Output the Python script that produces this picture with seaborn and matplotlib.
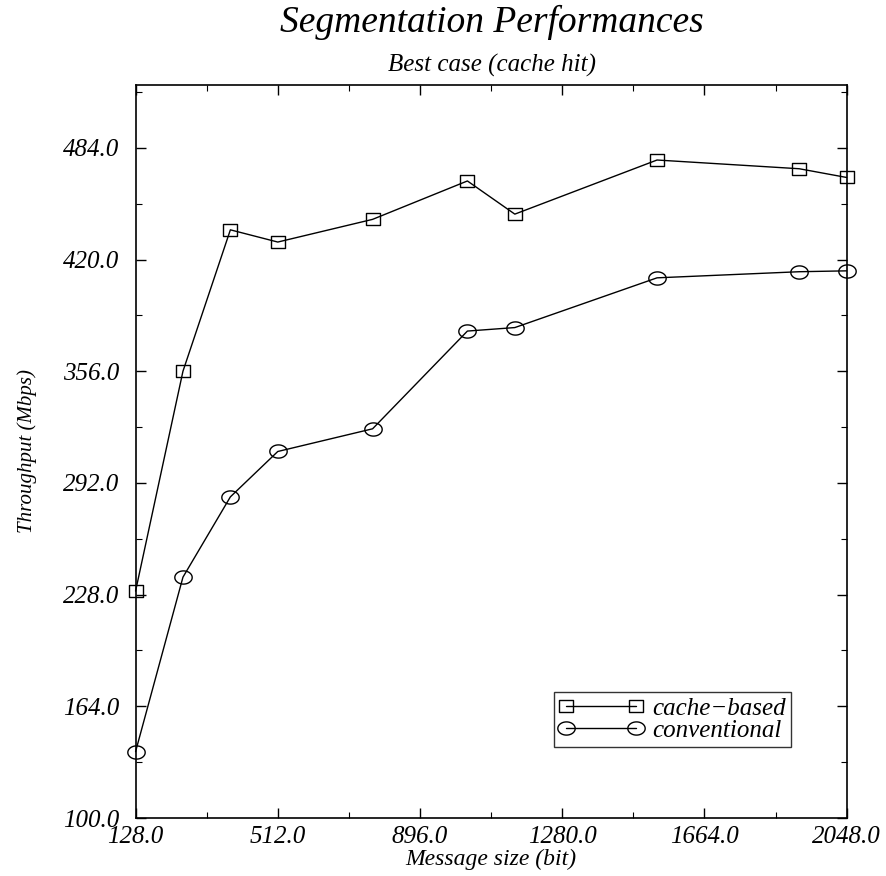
import numpy as np
import pandas as pd
import matplotlib
matplotlib.use("Agg")
import matplotlib.pyplot as plt
from matplotlib.path import Path
from matplotlib.lines import Line2D
import seaborn as sns

# ---- data ----
msg_size = [128, 256, 384, 512, 768, 1024, 1152, 1536, 1920, 2048]
cache_based = [230, 356, 437, 430, 443, 465, 446, 477, 472, 467]
conventional = [138, 238, 284, 310, 323, 379, 381, 409.5, 413, 413.5]
series_names = ["cache\u2212based", "conventional"]
x_ticks = [128, 512, 896, 1280, 1664, 2048]
y_ticks = [100, 164, 228, 292, 356, 420, 484]

df = pd.DataFrame({
    "size": msg_size * 2,
    "thr": cache_based + conventional,
    "series": [series_names[0]] * len(msg_size) + [series_names[1]] * len(msg_size),
})

sns.set_theme(style="ticks")
plt.rcParams["font.family"] = ["Liberation Serif", "DejaVu Serif"]
plt.rcParams["font.style"] = "italic"
for key in ["text.color", "axes.labelcolor", "xtick.color", "ytick.color",
            "axes.edgecolor"]:
    plt.rcParams[key] = "black"

# ellipse marker (wider than tall) and slightly wide square
t = np.linspace(0, 2 * np.pi, 61)
ellipse = Path(np.column_stack([np.cos(t), 0.76 * np.sin(t)]), closed=True)
rect = Path([(-1, -0.9), (1, -0.9), (1, 0.9), (-1, 0.9), (-1, -0.9)],
            closed=True)

fig = plt.figure(figsize=(8.86, 8.76), dpi=100)
ax = fig.add_axes([0.153, 0.0662, 0.8026, 0.8368])

sns.lineplot(data=df, x="size", y="thr", style="series",
             markers={series_names[0]: rect, series_names[1]: ellipse},
             dashes=False, color="black", linewidth=1.0,
             markersize=10, markerfacecolor="none", markeredgecolor="black",
             markeredgewidth=1.0, ax=ax, legend=False)

lines = ax.get_lines()
lines[0].set_markersize(9.8)
lines[1].set_markersize(12.5)
for ln in lines:
    ln.set_clip_on(False)

ax.set_xlim(128, 2048)
ax.set_ylim(100, 520)
ax.set_xticks(x_ticks)
ax.set_xticklabels([f"{v:.1f}" for v in x_ticks])
ax.set_xticks([320, 704, 1088, 1472, 1856], minor=True)
ax.set_yticks(y_ticks)
ax.set_yticklabels([f"{v:.1f}" for v in y_ticks])
ax.set_yticks([132, 196, 260, 324, 388, 452, 516], minor=True)
ax.tick_params(which="both", direction="in", top=True, right=True,
               labelsize=18, colors="black")
ax.tick_params(which="major", length=7, width=1)
ax.tick_params(which="minor", length=4, width=0.8)
ax.tick_params(axis="y", which="both", pad=12)
ax.tick_params(axis="x", which="both", pad=6)
for lab in ax.get_xticklabels() + ax.get_yticklabels():
    lab.set_fontstyle("italic")
for sp in ax.spines.values():
    sp.set_color("black")
    sp.set_linewidth(1.2)

ax.set_xlabel("Message size (bit)", fontsize=17, style="italic", labelpad=0)
ax.set_ylabel("Throughput (Mbps)", fontsize=15, style="italic")
ax.yaxis.set_label_coords(-0.1385, 0.5)

fig.text(0.555, 1 - 32 / 876, "Segmentation Performances", ha="center",
         va="baseline", fontsize=27, style="italic")
fig.text(0.555, 1 - 72 / 876, "Best case (cache hit)", ha="center",
         va="baseline", fontsize=18, style="italic")

handles = [
    Line2D([], [], color="black", lw=1.0, marker=rect, markersize=9.8,
           mfc="none", mec="black"),
    Line2D([], [], color="black", lw=1.0, marker=ellipse, markersize=12.5,
           mfc="none", mec="black"),
]
leg = ax.legend(handles, series_names, loc="lower right",
                bbox_to_anchor=(0.9217, 0.0969), numpoints=2,
                handlelength=3.4, fontsize=18, frameon=True, fancybox=False,
                borderpad=0.2, labelspacing=-0.02, handletextpad=0.35,
                borderaxespad=0)
leg.get_frame().set_edgecolor("black")
leg.get_frame().set_linewidth(1.0)
for txt in leg.get_texts():
    txt.set_fontstyle("italic")

fig.savefig("out.png", dpi=100)
